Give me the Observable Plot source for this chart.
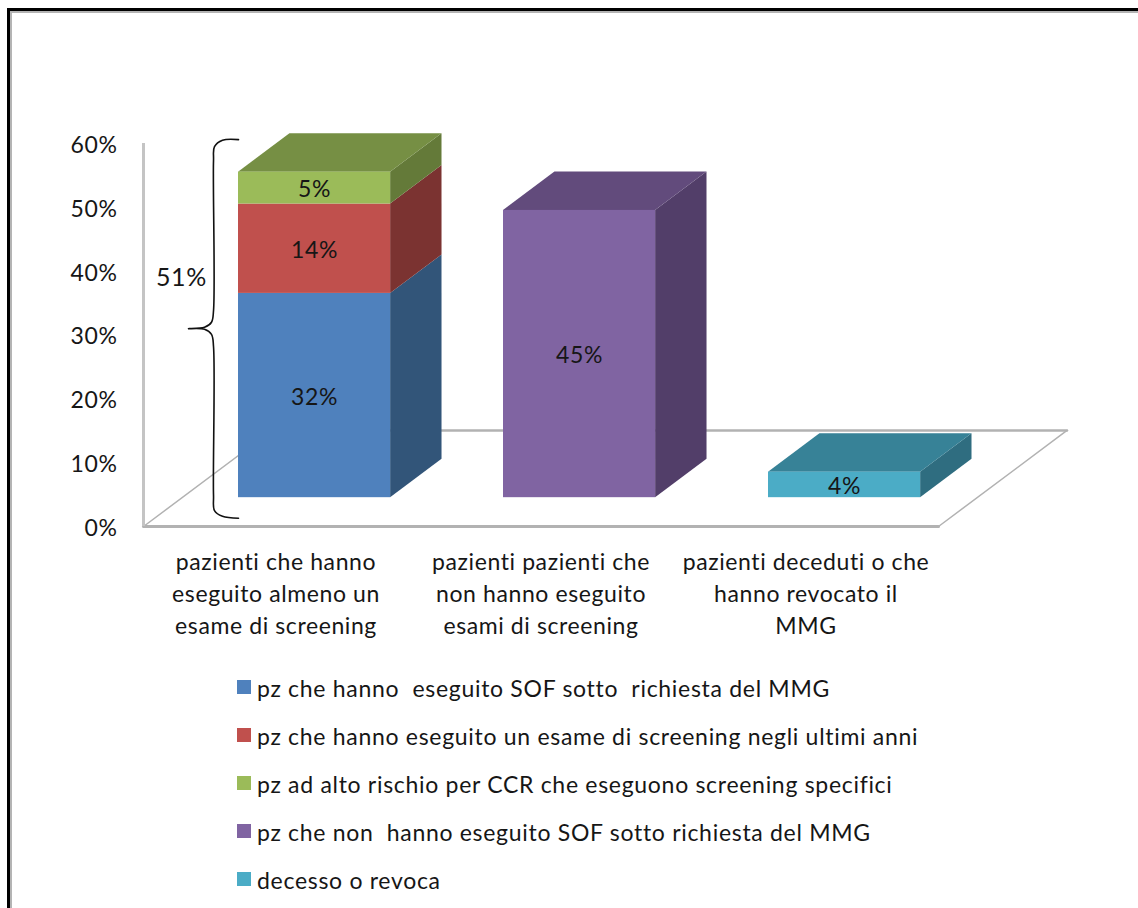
<!DOCTYPE html>
<html lang="it">
<head>
<meta charset="utf-8">
<title>Screening CCR</title>
<script src="https://cdn.jsdelivr.net/npm/d3@7"></script>
<script src="https://cdn.jsdelivr.net/npm/@observablehq/plot@0.6"></script>
<style>
  html, body { margin: 0; padding: 0; background: #fff; }
  #page { position: relative; width: 1138px; height: 908px; overflow: hidden; background: #fff; font-family: Lato, sans-serif; color: #161616; }
  #frame { position: absolute; left: 7px; top: 8px; width: 1200px; height: 1000px; border-left: 3px solid #000; border-top: 3px solid #000; box-shadow: inset 2px 2px 0 #b4b4b4; }
  #chart { position: absolute; left: 0; top: 0; }
  #chart svg { background: transparent; display: block; }
  #legend { position: absolute; left: 237px; top: 664px; }
  .row { height: 48px; display: flex; align-items: center; font-size: 23px; letter-spacing: 0.7px; white-space: pre; }
  .row i { display: block; width: 14px; height: 14px; margin-right: 6px; position: relative; top: -1px; }
</style>
</head>
<body>
<div id="page">
  <div id="frame"></div>
  <div id="chart"></div>
  <div id="legend"></div>
</div>
<script>
// Values, in percent of patients
const categories = [
  "pazienti che hanno\neseguito almeno un\nesame di screening",
  "pazienti pazienti che\nnon hanno eseguito\nesami di screening",
  "pazienti deceduti o che\nhanno revocato il\nMMG"
];
const seriesNames = [
  "pz che hanno  eseguito SOF sotto  richiesta del MMG",
  "pz che hanno eseguito un esame di screening negli ultimi anni",
  "pz ad alto rischio per CCR che eseguono screening specifici",
  "pz che non  hanno eseguito SOF sotto richiesta del MMG",
  "decesso o revoca"
];
const seriesCategory = [0, 0, 0, 1, 2];
const seriesValues = [32, 14, 5, 45, 4];
const frontColors = ["#4f81bd", "#c0504d", "#9bbb59", "#8064a2", "#4bacc6"];
const sideColors = ["#325579", "#7b3331", "#647a39", "#523e69", "#2f6d80"];
const topColors = ["#3c618e", "#903c3a", "#768f44", "#624b7c", "#378297"];

// Bracket around the screened patients, in axis units
const bracketSlots = [-0.1415, -0.2019, -0.2321, -0.2358, -0.2358, -0.2434, -0.2698, -0.3302, -0.2698, -0.2434, -0.2358, -0.2358, -0.2321, -0.2019, -0.1415];
const bracketValues = [60.6, 60.5, 59.5, 57.3, 33.8, 32.0, 31.2, 31.0, 30.9, 30.1, 28.2, 4.9, 2.5, 1.6, 1.3];
const bracketLabelAt = {slot: -0.357, value: 38.9};

// Oblique projection: depth runs from 0 (front of floor) to 1 (back of floor)
const skewSlot = 0.485;
const skewValue = 15.05;
const px = (slot, depth) => slot + depth * skewSlot;
const py = (value, depth) => value + depth * skewValue;
const barHalf = 0.287;
const barDepth = [0.3, 0.7];
const slotRange = [-0.5, 2.5];

// Stack the series inside each category
const running = new Map();
const segments = seriesValues.map((value, i) => {
  const slot = seriesCategory[i];
  const start = running.get(slot) ?? 0;
  running.set(slot, start + value);
  return {slot, start, end: start + value, value, front: frontColors[i], side: sideColors[i], top: topColors[i]};
});
const stackTop = d3.rollup(segments, v => d3.max(v, d => d.end), d => d.slot);

// Each segment is a side face, a front face and, for the highest one, a top face
const [z0, z1] = barDepth;
const solids = segments.flatMap(s => {
  const left = s.slot - barHalf, right = s.slot + barHalf;
  const marks = [
    Plot.areaY([z0, z1], {
      x: z => px(right, z),
      y1: z => py(s.start, z),
      y2: z => py(s.end, z),
      fill: s.side
    })
  ];
  if (s.end === stackTop.get(s.slot)) {
    marks.push(Plot.areaX([z0, z1], {
      y: z => py(s.end, z),
      x1: z => px(left, z),
      x2: z => px(right, z),
      fill: s.top
    }));
  }
  marks.push(Plot.rect([s], {
    x1: () => px(left, z0),
    x2: () => px(right, z0),
    y1: d => py(d.start, z0),
    y2: d => py(d.end, z0),
    fill: s.front
  }));
  return marks;
});

const floorFront = [[slotRange[0], 0], [slotRange[1], 0]];
const floorRight = [[slotRange[1], 0], [slotRange[1], 1]];
const floorBack = [[slotRange[1], 1], [slotRange[0], 1]];
const floorLeft = [[slotRange[0], 0], [slotRange[0], 1]];
const floorLine = (pts, width) => Plot.line(pts, {
  x: d => px(d[0], d[1]),
  y: d => py(0, d[1]),
  stroke: "#b2b2b2",
  strokeWidth: width
});

const chart = Plot.plot({
  width: 1138,
  height: 660,
  marginLeft: 143,
  marginRight: 0,
  marginTop: 143,
  marginBottom: 134,
  style: {fontFamily: "Lato, sans-serif", color: "#161616", background: "transparent", letterSpacing: "0.6px"},
  x: {domain: [-0.5, 3.2547], range: [143, 1138], axis: null},
  y: {domain: [0, 60], range: [526, 143], axis: null},
  marks: [
    floorLine(floorLeft, 1.5),
    floorLine(floorRight, 1.5),
    floorLine(floorBack, 2.5),
    floorLine(floorFront, 3),
    Plot.ruleX([slotRange[0]], {y1: 0, y2: 60, stroke: "#c4c4c4", strokeWidth: 3}),
    Plot.axisY({
      ticks: d3.range(0, 61, 10),
      tickFormat: d => d + "%",
      tickSize: 0,
      tickPadding: 26,
      label: null,
      fontSize: 23,
      dy: 2
    }),
    Plot.axisX({
      ticks: categories.map((_, i) => i),
      tickFormat: i => categories[i],
      tickSize: 0,
      tickPadding: 21,
      label: null,
      fontSize: 23,
      lineHeight: 32 / 23
    }),
    ...solids,
    Plot.text(segments, {
      x: d => px(d.slot, z0),
      y: d => py((d.start + d.end) / 2, z0),
      text: d => d.value + "%",
      fontSize: 23,
      dy: 2,
      fill: "#161616"
    }),
    Plot.line(bracketSlots.map((slot, i) => ({slot, value: bracketValues[i]})), {
      x: "slot",
      y: "value",
      curve: "catmull-rom",
      stroke: "#111",
      strokeWidth: 1.6
    }),
    Plot.text([bracketLabelAt], {
      x: "slot",
      y: "value",
      text: () => d3.sum(segments.filter(d => d.slot === 0), d => d.value) + "%",
      fontSize: 25,
      fill: "#161616"
    })
  ]
});
document.getElementById("chart").append(chart);

// Legend below the chart
const legend = d3.select("#legend");
seriesNames.forEach((name, i) => {
  const row = legend.append("div").attr("class", "row");
  row.append("i").style("background", frontColors[i]);
  row.append("span").text(name);
});
</script>
</body>
</html>
